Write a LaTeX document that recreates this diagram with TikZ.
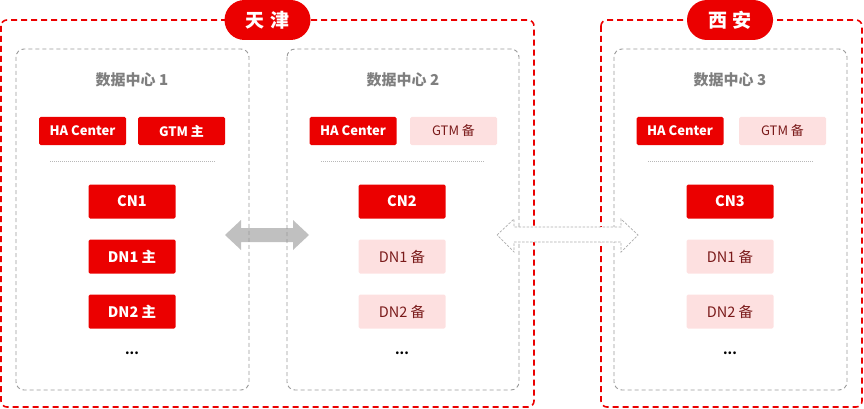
\documentclass[tikz,border=0pt]{standalone}
\usepackage{fontspec}
\setmainfont{Noto Sans CJK SC}
\definecolor{hwred}{HTML}{EB0000}
\definecolor{pale}{HTML}{FDE0E0}
\definecolor{paletext}{HTML}{7A1A1A}
\definecolor{dcgray}{HTML}{999999}
\definecolor{titlegray}{HTML}{7F7F7F}
\definecolor{arrowgray}{HTML}{C0C0C0}
\tikzset{
  region/.style={draw=hwred, line width=1.6pt, dash pattern=on 6pt off 4pt, rounded corners=6pt},
  dcbox/.style={draw=dcgray, line width=0.9pt, dash pattern=on 4pt off 3pt, rounded corners=8pt},
  pill/.style={fill=hwred, rounded corners=20pt, text=white, font=\bfseries\fontsize{19}{21}\selectfont, minimum width=86pt, minimum height=40pt, inner sep=0pt},
  redbox/.style={fill=hwred, rounded corners=1.5pt, text=white, font=\bfseries\fontsize{13}{15}\selectfont, minimum width=87pt, minimum height=28pt, inner sep=0pt},
  palebox/.style={fill=pale, rounded corners=1.5pt, text=paletext, font=\fontsize{13}{15}\selectfont, minimum width=87pt, minimum height=28pt, inner sep=0pt},
  rednode/.style={redbox, minimum height=34pt, font=\bfseries\fontsize{14.5}{16}\selectfont},
  palenode/.style={palebox, minimum height=34pt, font=\fontsize{14.5}{16}\selectfont},
  dctitle/.style={text=titlegray, font=\bfseries\fontsize{15}{17}\selectfont},
  sep/.style={draw=dcgray!70, line width=0.5pt, dash pattern=on 1pt off 1pt},
  dots/.style={font=\bfseries\fontsize{13}{15}\selectfont, text=black},
}
\begin{document}
\begin{tikzpicture}[x=1pt,y=-1pt]
\useasboundingbox (0,0) rectangle (864,409);
% arrows (beneath)
\fill[arrowgray] (225,235) -- (241,220) -- (241,228) -- (293,228) -- (293,220) -- (309,235) -- (293,250) -- (293,242) -- (241,242) -- (241,250) -- cycle;
% regions
\draw[region] (1,20) rectangle (534,407);
\draw[region] (601,20) rectangle (862,407);
% data centers
\draw[dcbox] (16,49) rectangle (249,390);
\draw[dcbox] (287,49) rectangle (519,390);
\draw[dcbox] (614,49) rectangle (847,390);
% dashed white arrow (on top)
\filldraw[fill=white, draw=dcgray!80, line width=0.7pt, dash pattern=on 2.5pt off 1.5pt] (497,235) -- (514,219) -- (514,227) -- (621,227) -- (621,219) -- (638,235) -- (621,252) -- (621,242) -- (514,242) -- (514,252) -- cycle;
% region labels
\node[pill] (tj) at (267.5,20) {天\hspace{6pt}津};
\node[pill] (xa) at (730,20) {西\hspace{6pt}安};
% DC1
\node[dctitle] (t1) at (132,80) {数据中心 1};
\node[redbox] (ha1) at (82.5,131) {HA Center};
\node[redbox] (gtm1) at (181.5,131) {GTM 主};
\draw[sep] (50,161) -- (215,161);
\node[rednode] (cn1) at (132,201.5) {CN1};
\node[rednode] (dn11) at (132,256.5) {DN1 主};
\node[rednode] (dn21) at (132,311.5) {DN2 主};
\node[dots] (d1) at (132,353) {...};
% DC2
\node[dctitle] (t2) at (403,80) {数据中心 2};
\node[redbox] (ha2) at (353,131) {HA Center};
\node[palebox] (gtm2) at (453.5,131) {GTM 备};
\draw[sep] (321,161) -- (485,161);
\node[rednode] (cn2) at (402,201.5) {CN2};
\node[palenode] (dn12) at (402,256.5) {DN1 备};
\node[palenode] (dn22) at (402,311.5) {DN2 备};
\node[dots] (d2) at (402,353) {...};
% DC3
\node[dctitle] (t3) at (730,80) {数据中心 3};
\node[redbox] (ha3) at (680,131) {HA Center};
\node[palebox] (gtm3) at (782.5,131) {GTM 备};
\draw[sep] (648,161) -- (813,161);
\node[rednode] (cn3) at (730,201.5) {CN3};
\node[palenode] (dn13) at (730,256.5) {DN1 备};
\node[palenode] (dn23) at (730,311.5) {DN2 备};
\node[dots] (d3) at (730,353) {...};
\end{tikzpicture}
\end{document}
